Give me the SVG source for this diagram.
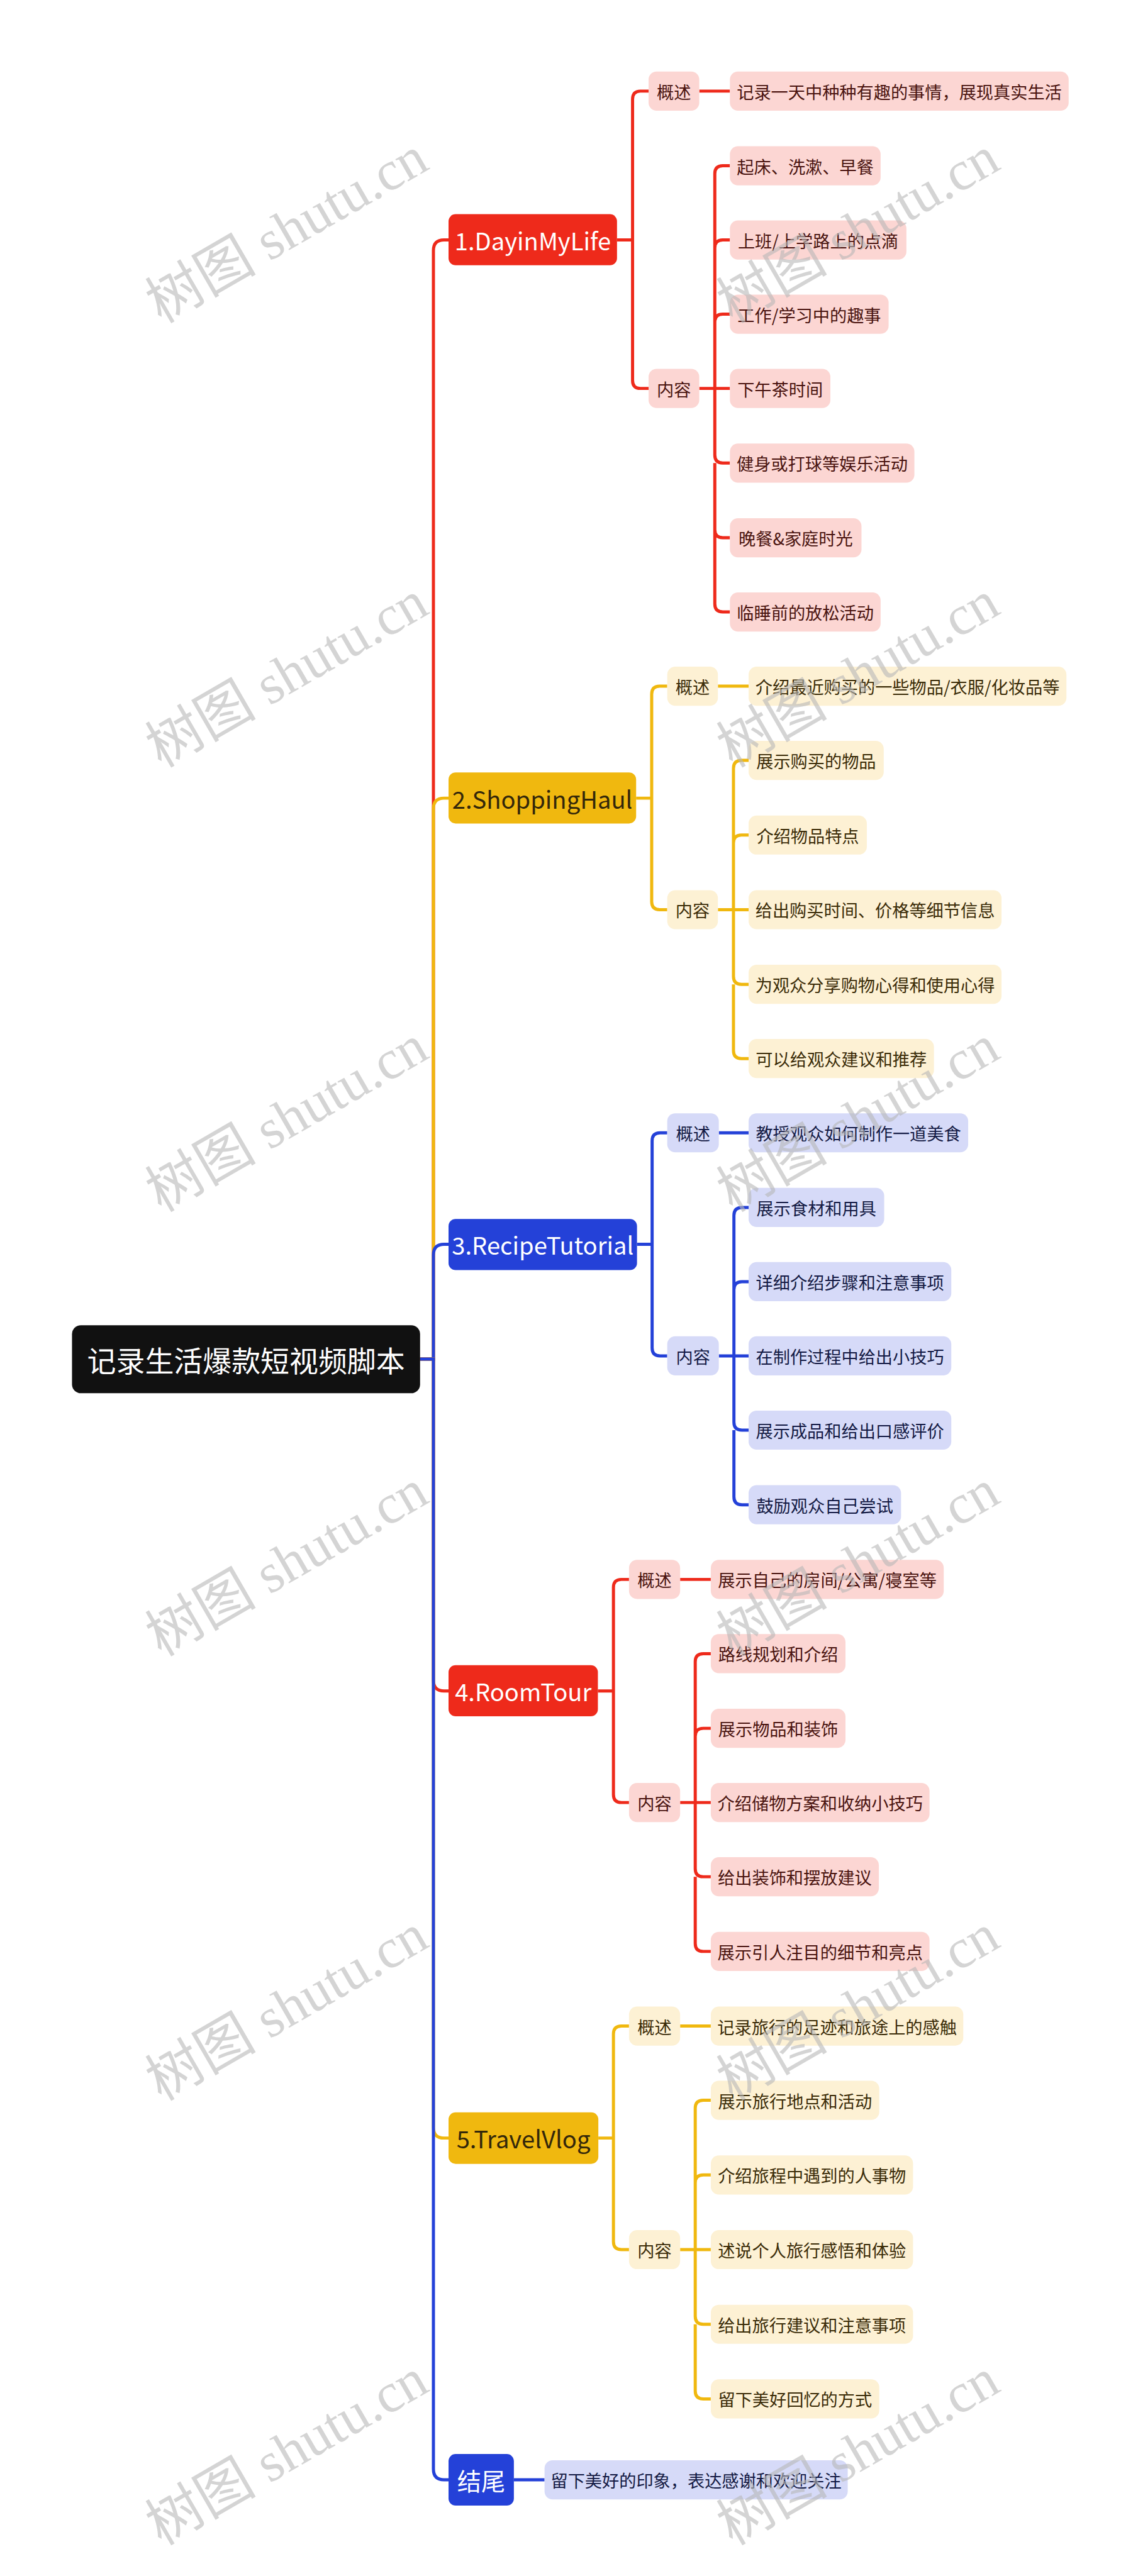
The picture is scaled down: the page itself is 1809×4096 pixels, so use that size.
<svg xmlns="http://www.w3.org/2000/svg" width="1809" height="4096" viewBox="0 0 1809 4096">
<style>
text{font-family:"Noto Sans CJK SC","Noto Sans",sans-serif;text-anchor:middle;dominant-baseline:central}
.root rect{fill:#111111}
.root text{fill:#ffffff;font-size:65px}
.b text{font-size:54px}
.l text{font-size:38.5px}
.red.b rect{fill:#ee2a1b}.red.b text{fill:#ffffff}
.yel.b rect{fill:#f0b80f}.yel.b text{fill:#33270a}
.blu.b rect{fill:#2441d8}.blu.b text{fill:#ffffff}
.red.l rect{fill:#fcd6d3}.red.l text{fill:#4a1410}
.yel.l rect{fill:#fdf1d4}.yel.l text{fill:#3b2c08}
.blu.l rect{fill:#d6daf8}.blu.l text{fill:#141a44}
.c path{fill:none;stroke-width:7;stroke-linecap:butt}
.cr{stroke:#ee2a1b}.cy{stroke:#f0b80f}.cb{stroke:#2441d8}
.wm text{font-family:"Liberation Serif","Noto Sans CJK SC",serif;font-size:125px;fill:#b8b8b8;opacity:0.6}
</style>
<rect width="1809" height="4096" fill="#ffffff"/>
<g transform="scale(0.70664)">
<g id="connectors" class="c">
<path class="cr" d="M945 3058H975V564Q975 540 999 540H1009"/>
<path class="cy" d="M945 3058H975V1820Q975 1796 999 1796H1009"/>
<path class="cb" d="M945 3058H975V2824Q975 2800 999 2800H1009"/>
<path class="cr" d="M945 3058H975V3781Q975 3805 999 3805H1009"/>
<path class="cy" d="M945 3058H975V4787Q975 4811 999 4811H1009"/>
<path class="cb" d="M945 3058H975V5556Q975 5580 999 5580H1009"/>
<path class="cr" d="M1388 540H1423V223Q1423 205 1441 205H1459M1388 540H1423V856Q1423 874 1441 874H1459M1573 205H1642"/>
<path class="cr" d="M1573 874H1608V391Q1608 373 1626 373H1642M1608 540V558Q1608 540 1626 540H1642M1608 707V725Q1608 707 1626 707H1642M1608 874H1642M1608 874V1024Q1608 1042 1626 1042H1642M1608 1192Q1608 1210 1626 1210H1642M1608 1042V1359Q1608 1377 1626 1377H1642"/>
<path class="cy" d="M1431 1796H1466V1562Q1466 1544 1484 1544H1501M1431 1796H1466V2029Q1466 2047 1484 2047H1501M1615 1544H1684"/>
<path class="cy" d="M1615 2047H1650V1729Q1650 1711 1668 1711H1684M1650 1897Q1650 1879 1668 1879H1684M1650 2047H1684M1650 2047V2197Q1650 2215 1668 2215H1684M1650 2215V2364Q1650 2382 1668 2382H1684"/>
<path class="cb" d="M1433 2800H1467V2567Q1467 2549 1485 2549H1501M1433 2800H1467V3033Q1467 3051 1485 3051H1501M1617 2549H1684"/>
<path class="cb" d="M1617 3051H1651V2735Q1651 2717 1669 2717H1684M1651 2902Q1651 2884 1669 2884H1684M1651 3051H1684M1651 3051V3200Q1651 3218 1669 3218H1684M1651 3218V3368Q1651 3386 1669 3386H1684"/>
<path class="cr" d="M1345 3805H1380V3572Q1380 3554 1398 3554H1415M1345 3805H1380V4038Q1380 4056 1398 4056H1415M1530 3554H1599"/>
<path class="cr" d="M1530 4056H1564V3739Q1564 3721 1582 3721H1599M1564 3907Q1564 3889 1582 3889H1599M1564 4056H1599M1564 4056V4205Q1564 4223 1582 4223H1599M1564 4223V4373Q1564 4391 1582 4391H1599"/>
<path class="cy" d="M1346 4811H1380V4577Q1380 4559 1398 4559H1415M1346 4811H1380V5044Q1380 5062 1398 5062H1415M1530 4559H1599"/>
<path class="cy" d="M1530 5062H1564V4744Q1564 4726 1582 4726H1599M1564 4912Q1564 4894 1582 4894H1599M1564 5062H1599M1564 5062V5212Q1564 5230 1582 5230H1599M1564 5230V5380Q1564 5398 1582 5398H1599"/>
<path class="cb" d="M1156 5580H1225"/>
</g>
<g id="root" class="root"><rect x="162" y="2982" width="783" height="153" rx="20"/><text x="553.5" y="3058">记录生活爆款短视频脚本</text></g>

<g id="b1" class="red b"><rect x="1009" y="482" width="379" height="115" rx="16"/><text x="1198.5" y="540">1.DayinMyLife</text></g>
<g id="b1-s1" class="red l"><rect x="1459" y="161" width="114" height="88" rx="18"/><text x="1516" y="205">概述</text></g>
<g id="b1-s2" class="red l"><rect x="1459" y="830" width="114" height="88" rx="18"/><text x="1516" y="874">内容</text></g>
<g id="b1-l0" class="red l"><rect x="1642" y="161" width="762" height="88" rx="18"/><text x="2023" y="205">记录一天中种种有趣的事情，展现真实生活</text></g>
<g id="b1-l1" class="red l"><rect x="1642" y="329" width="339" height="88" rx="18"/><text x="1811.5" y="373">起床、洗漱、早餐</text></g>
<g id="b1-l2" class="red l"><rect x="1642" y="496" width="397" height="88" rx="18"/><text x="1840.5" y="540">上班/上学路上的点滴</text></g>
<g id="b1-l3" class="red l"><rect x="1642" y="663" width="357" height="88" rx="18"/><text x="1820.5" y="707">工作/学习中的趣事</text></g>
<g id="b1-l4" class="red l"><rect x="1642" y="830" width="226" height="88" rx="18"/><text x="1755" y="874">下午茶时间</text></g>
<g id="b1-l5" class="red l"><rect x="1642" y="998" width="415" height="88" rx="18"/><text x="1849.5" y="1042">健身或打球等娱乐活动</text></g>
<g id="b1-l6" class="red l"><rect x="1642" y="1166" width="296" height="88" rx="18"/><text x="1790" y="1210">晚餐&amp;家庭时光</text></g>
<g id="b1-l7" class="red l"><rect x="1642" y="1333" width="339" height="88" rx="18"/><text x="1811.5" y="1377">临睡前的放松活动</text></g>

<g id="b2" class="yel b"><rect x="1009" y="1738" width="422" height="115" rx="16"/><text x="1220" y="1796">2.ShoppingHaul</text></g>
<g id="b2-s1" class="yel l"><rect x="1501" y="1500" width="114" height="88" rx="18"/><text x="1558" y="1544">概述</text></g>
<g id="b2-s2" class="yel l"><rect x="1501" y="2003" width="114" height="88" rx="18"/><text x="1558" y="2047">内容</text></g>
<g id="b2-l0" class="yel l"><rect x="1684" y="1500" width="715" height="88" rx="18"/><text x="2041.5" y="1544">介绍最近购买的一些物品/衣服/化妆品等</text></g>
<g id="b2-l1" class="yel l"><rect x="1684" y="1667" width="304" height="88" rx="18"/><text x="1836" y="1711">展示购买的物品</text></g>
<g id="b2-l2" class="yel l"><rect x="1684" y="1835" width="266" height="88" rx="18"/><text x="1817" y="1879">介绍物品特点</text></g>
<g id="b2-l3" class="yel l"><rect x="1684" y="2003" width="569" height="88" rx="18"/><text x="1968.5" y="2047">给出购买时间、价格等细节信息</text></g>
<g id="b2-l4" class="yel l"><rect x="1684" y="2171" width="569" height="88" rx="18"/><text x="1968.5" y="2215">为观众分享购物心得和使用心得</text></g>
<g id="b2-l5" class="yel l"><rect x="1684" y="2338" width="417" height="88" rx="18"/><text x="1892.5" y="2382">可以给观众建议和推荐</text></g>

<g id="b3" class="blu b"><rect x="1009" y="2743" width="424" height="115" rx="16"/><text x="1221" y="2800">3.RecipeTutorial</text></g>
<g id="b3-s1" class="blu l"><rect x="1501" y="2505" width="116" height="88" rx="18"/><text x="1559" y="2549">概述</text></g>
<g id="b3-s2" class="blu l"><rect x="1501" y="3007" width="116" height="88" rx="18"/><text x="1559" y="3051">内容</text></g>
<g id="b3-l0" class="blu l"><rect x="1684" y="2505" width="494" height="88" rx="18"/><text x="1931" y="2549">教授观众如何制作一道美食</text></g>
<g id="b3-l1" class="blu l"><rect x="1684" y="2673" width="305" height="88" rx="18"/><text x="1836.5" y="2717">展示食材和用具</text></g>
<g id="b3-l2" class="blu l"><rect x="1684" y="2840" width="456" height="88" rx="18"/><text x="1912" y="2884">详细介绍步骤和注意事项</text></g>
<g id="b3-l3" class="blu l"><rect x="1684" y="3007" width="456" height="88" rx="18"/><text x="1912" y="3051">在制作过程中给出小技巧</text></g>
<g id="b3-l4" class="blu l"><rect x="1684" y="3174" width="456" height="88" rx="18"/><text x="1912" y="3218">展示成品和给出口感评价</text></g>
<g id="b3-l5" class="blu l"><rect x="1684" y="3342" width="343" height="88" rx="18"/><text x="1855.5" y="3386">鼓励观众自己尝试</text></g>

<g id="b4" class="red b"><rect x="1009" y="3747" width="336" height="115" rx="16"/><text x="1177" y="3805">4.RoomTour</text></g>
<g id="b4-s1" class="red l"><rect x="1415" y="3510" width="115" height="88" rx="18"/><text x="1472.5" y="3554">概述</text></g>
<g id="b4-s2" class="red l"><rect x="1415" y="4012" width="115" height="88" rx="18"/><text x="1472.5" y="4056">内容</text></g>
<g id="b4-l0" class="red l"><rect x="1599" y="3510" width="524" height="88" rx="18"/><text x="1861" y="3554">展示自己的房间/公寓/寝室等</text></g>
<g id="b4-l1" class="red l"><rect x="1599" y="3677" width="303" height="88" rx="18"/><text x="1750.5" y="3721">路线规划和介绍</text></g>
<g id="b4-l2" class="red l"><rect x="1599" y="3845" width="303" height="88" rx="18"/><text x="1750.5" y="3889">展示物品和装饰</text></g>
<g id="b4-l3" class="red l"><rect x="1599" y="4012" width="492" height="88" rx="18"/><text x="1845" y="4056">介绍储物方案和收纳小技巧</text></g>
<g id="b4-l4" class="red l"><rect x="1599" y="4179" width="378" height="88" rx="18"/><text x="1788" y="4223">给出装饰和摆放建议</text></g>
<g id="b4-l5" class="red l"><rect x="1599" y="4347" width="492" height="88" rx="18"/><text x="1845" y="4391">展示引人注目的细节和亮点</text></g>

<g id="b5" class="yel b"><rect x="1009" y="4753" width="337" height="116" rx="16"/><text x="1177.5" y="4811">5.TravelVlog</text></g>
<g id="b5-s1" class="yel l"><rect x="1415" y="4515" width="115" height="88" rx="18"/><text x="1472.5" y="4559">概述</text></g>
<g id="b5-s2" class="yel l"><rect x="1415" y="5018" width="115" height="88" rx="18"/><text x="1472.5" y="5062">内容</text></g>
<g id="b5-l0" class="yel l"><rect x="1599" y="4515" width="568" height="88" rx="18"/><text x="1883" y="4559">记录旅行的足迹和旅途上的感触</text></g>
<g id="b5-l1" class="yel l"><rect x="1599" y="4682" width="379" height="88" rx="18"/><text x="1788.5" y="4726">展示旅行地点和活动</text></g>
<g id="b5-l2" class="yel l"><rect x="1599" y="4850" width="455" height="88" rx="18"/><text x="1826.5" y="4894">介绍旅程中遇到的人事物</text></g>
<g id="b5-l3" class="yel l"><rect x="1599" y="5018" width="455" height="88" rx="18"/><text x="1826.5" y="5062">述说个人旅行感悟和体验</text></g>
<g id="b5-l4" class="yel l"><rect x="1599" y="5186" width="455" height="88" rx="18"/><text x="1826.5" y="5230">给出旅行建议和注意事项</text></g>
<g id="b5-l5" class="yel l"><rect x="1599" y="5354" width="379" height="88" rx="18"/><text x="1788.5" y="5398">留下美好回忆的方式</text></g>

<g id="b6" class="blu b"><rect x="1009" y="5522" width="147" height="116" rx="16"/><text x="1082.5" y="5580">结尾</text></g>
<g id="b6-l0" class="blu l"><rect x="1225" y="5536" width="682" height="88" rx="18"/><text x="1566" y="5580">留下美好的印象，表达感谢和欢迎关注</text></g>

<g id="watermark" class="wm">
<text transform="translate(645 517) rotate(-30)">树图 shutu.cn</text>
<text transform="translate(1930 517) rotate(-30)">树图 shutu.cn</text>
<text transform="translate(645 1517) rotate(-30)">树图 shutu.cn</text>
<text transform="translate(1930 1517) rotate(-30)">树图 shutu.cn</text>
<text transform="translate(645 2517) rotate(-30)">树图 shutu.cn</text>
<text transform="translate(1930 2517) rotate(-30)">树图 shutu.cn</text>
<text transform="translate(645 3517) rotate(-30)">树图 shutu.cn</text>
<text transform="translate(1930 3517) rotate(-30)">树图 shutu.cn</text>
<text transform="translate(645 4517) rotate(-30)">树图 shutu.cn</text>
<text transform="translate(1930 4517) rotate(-30)">树图 shutu.cn</text>
<text transform="translate(645 5517) rotate(-30)">树图 shutu.cn</text>
<text transform="translate(1930 5517) rotate(-30)">树图 shutu.cn</text>
</g>
</g>
</svg>
